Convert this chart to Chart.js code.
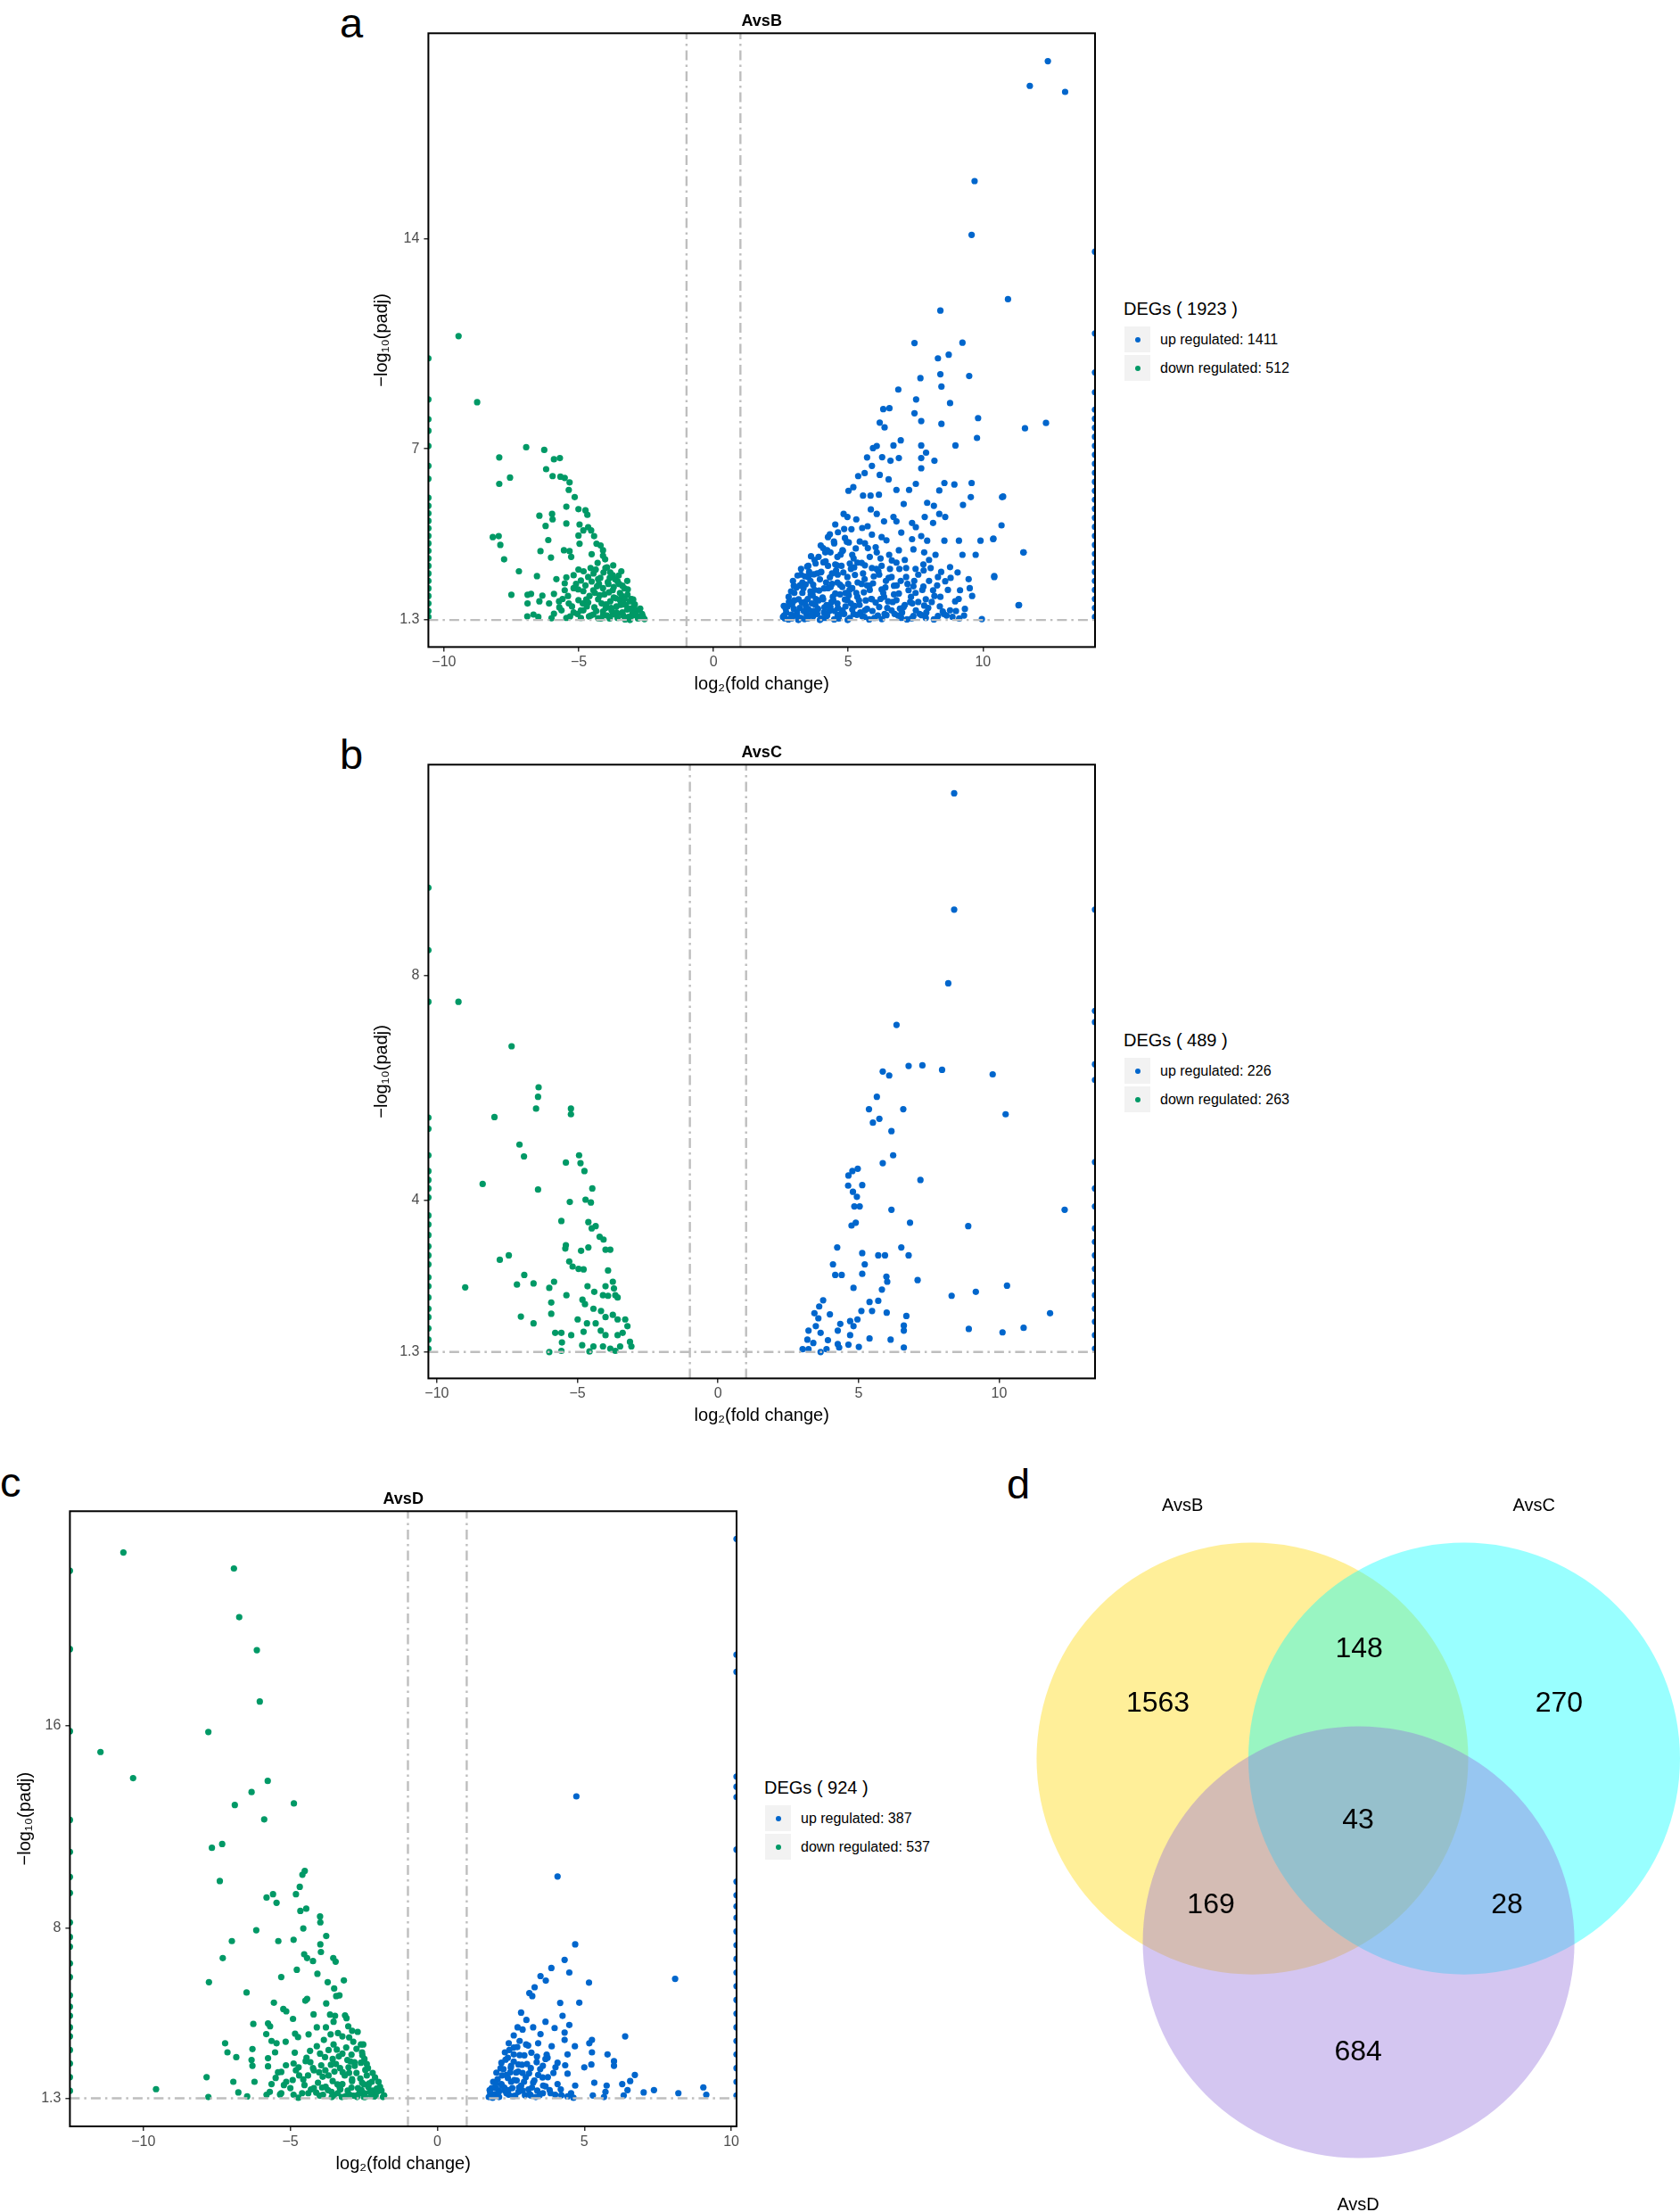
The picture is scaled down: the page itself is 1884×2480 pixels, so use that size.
<!DOCTYPE html>
<html>
<head>
<meta charset="utf-8">
<script src="https://cdn.jsdelivr.net/npm/chart.js@4.4.1/dist/chart.umd.min.js"></script>
<style>
  body { margin: 0; background: #fff; width: 1884px; height: 2480px; position: relative; overflow: hidden;
         font-family: "Liberation Sans", Arial, Helvetica, sans-serif; }
  canvas { position: absolute; }
  .tag { position: absolute; font-size: 47px; line-height: 47px; color: #000; }
  .legend { position: absolute; color: #000; }
  .legend .ttl { position: absolute; left: 0; top: 0; font-size: 20px; line-height: 20px; white-space: nowrap; }
  .legend .key { position: absolute; left: 1px; width: 29px; height: 29px; background: #F2F2F2; }
  .legend .dot { position: absolute; left: 11.5px; top: 11.5px; width: 6px; height: 6px; border-radius: 50%; }
  .legend .lab { position: absolute; left: 41px; font-size: 16px; line-height: 16px; white-space: nowrap; }
</style>
</head>
<body>

<div class="tag" style="left:381px; top:2px;">a</div>
<div class="tag" style="left:381px; top:822px;">b</div>
<div class="tag" style="left:0px; top:1638px;">c</div>
<div class="tag" style="left:1129px; top:1640px;">d</div>

<canvas id="volA" width="840" height="786" style="left:400px; top:0px;"></canvas>
<canvas id="volB" width="840" height="786" style="left:400px; top:820px;"></canvas>
<canvas id="volC" width="838" height="788" style="left:0px; top:1657px;"></canvas>
<canvas id="venn" width="784" height="860" style="left:1100px; top:1620px;"></canvas>

<div id="legA" class="legend" style="left:1260px; top:336px;"></div>
<div id="legB" class="legend" style="left:1260px; top:1156px;"></div>
<div id="legC" class="legend" style="left:857px; top:1994px;"></div>

<script>
const FONT = '"Liberation Sans", Arial, Helvetica, sans-serif';
const UP = '#0066CC';
const DOWN = '#009966';
const GUIDE = '#BEBEBE';

const comparisons = ['AvsB', 'AvsC', 'AvsD'];
const upCounts = [1411, 226, 387];
const downCounts = [512, 263, 537];

const foldCut = [-1, 1];
const padjCut = 1.3;
const xTicks = [-10, -5, 0, 5, 10];

// ---- AvsB ----
const xRangeA = [-10.58, 14.16];
const yRangeA = [0.40, 20.83];
const yTicksA = [1.3, 7, 14];
const upA = [
  [12.41,19.90],[11.74,19.08],[13.05,18.88],[9.69,15.91],[9.58,14.12],[10.93,11.98],[8.42,11.60],[7.46,10.52],
  [9.24,10.53],[8.33,10.01],[8.73,10.13],[7.68,9.35],[8.42,9.48],[9.49,9.42],[6.86,8.97],[8.46,9.07],[7.52,8.64],
  [8.78,8.52],[6.30,8.32],[6.53,8.35],[7.46,8.18],[9.82,8.02],[12.34,7.86],[11.56,7.68],[6.17,7.87],[6.35,7.71],
  [7.71,7.92],[8.46,7.83],[9.78,7.36],[6.95,7.28],[6.68,7.11],[5.92,7.02],[6.06,7.09],[7.71,7.11],[8.98,7.11],
  [5.70,6.71],[6.26,6.72],[6.88,6.69],[7.71,6.69],[7.89,6.87],[8.20,6.60],[5.88,6.43],[6.57,6.60],[7.71,6.35],
  [5.37,6.09],[5.61,6.19],[6.17,6.13],[6.50,5.98],[8.57,5.86],[7.51,5.83],[8.94,5.81],[9.58,5.86],[5.01,5.60],
  [5.19,5.72],[5.55,5.44],[5.83,5.44],[6.14,5.47],[6.79,5.63],[7.26,5.63],[8.38,5.61],[9.55,5.39],[10.71,5.39],
  [7.06,5.16],[7.93,5.20],[9.26,5.13],[8.18,5.10],[4.83,4.83],[4.97,4.73],[5.30,4.65],[5.84,4.98],[6.06,4.83],
  [6.68,4.73],[7.37,4.53],[7.84,4.73],[8.38,4.83],[8.60,4.73],[4.52,4.48],[4.85,4.33],[5.52,4.36],[6.33,4.58],
  [6.79,4.58],[7.51,4.39],[8.15,4.53],[10.69,4.45],[4.25,4.06],[4.47,3.91],[4.88,4.03],[5.43,3.91],[5.88,4.14],
  [6.24,4.06],[6.97,4.21],[7.37,3.99],[7.71,4.09],[7.93,3.94],[8.57,3.94],[9.11,3.94],[9.91,3.94],[10.38,3.99],
  [4.07,3.69],[4.34,3.55],[4.79,3.62],[5.15,3.47],[5.73,3.69],[6.06,3.55],[6.52,3.47],[6.88,3.62],[7.42,3.65],
  [7.82,3.55],[8.24,3.47],[9.24,3.47],[9.73,3.47],[11.51,3.55],[3.52,3.10],[3.79,3.18],[4.16,3.25],[4.52,3.15],
  [5.06,3.18],[5.34,3.21],[5.88,3.03],[6.24,3.10],[6.79,3.21],[7.15,3.03],[7.79,3.15],[8.06,3.03],[8.78,3.06],
  [9.06,2.88],[9.47,2.66],[10.42,2.73],[3.25,2.81],[3.52,2.73],[3.97,2.88],[4.61,2.81],[4.97,2.73],[5.61,2.66],
  [6.15,2.81],[6.61,2.73],[7.15,2.73],[7.60,2.81],[8.33,2.73],[8.60,2.59],[2.98,2.44],[3.34,2.36],[3.70,2.47],
  [4.25,2.36],[4.70,2.47],[5.15,2.36],[5.79,2.44],[6.24,2.32],[6.70,2.44],[7.24,2.29],[7.79,2.41],[8.15,2.29],
  [9.15,2.29],[9.51,2.36],[2.79,2.07],[3.16,1.99],[3.61,2.14],[4.07,1.99],[4.43,2.07],[4.97,1.96],[5.34,2.07],
  [5.88,1.99],[6.33,2.07],[6.79,1.96],[7.33,2.07],[7.88,1.99],[8.42,2.07],[8.97,1.92],[11.32,1.79],[2.61,1.77],
  [2.98,1.67],[3.43,1.77],[3.88,1.67],[4.34,1.73],[4.79,1.62],[5.24,1.77],[5.70,1.67],[6.15,1.73],[6.61,1.62],
  [7.06,1.73],[7.51,1.62],[7.97,1.70],[8.51,1.58],[8.78,1.62],[9.33,1.67],[2.58,1.40],[2.89,1.48],[3.25,1.37],
  [3.70,1.43],[4.16,1.37],[4.61,1.46],[5.06,1.37],[5.52,1.43],[5.97,1.37],[6.42,1.46],[6.97,1.37],[7.42,1.43],
  [7.88,1.37],[8.33,1.43],[8.87,1.40],[9.96,1.33],[11.34,1.80],[11.50,3.55],[10.75,5.41],[10.39,4.01],[10.42,2.76],
  [3.10,1.55],[3.40,1.90],[3.60,2.60],[3.80,2.00],[4.00,2.90],[4.10,1.55],[4.40,2.50],[4.60,3.40],[4.90,2.20],
  [5.10,3.00],[3.30,2.20],[2.80,1.90],[3.90,3.40],[4.60,1.85],[5.50,2.50],[5.80,3.40],[6.40,2.60],[6.90,3.00],
  [7.50,2.20],[8.00,2.60],[2.70,1.55],[2.85,1.90],[3.00,2.20],[3.05,1.45],[3.20,1.70],[3.30,2.55],[3.45,1.50],
  [3.50,2.00],[3.55,2.90],[3.65,1.85],[3.75,2.30],[3.85,1.50],[3.95,2.65],[4.05,2.05],[4.20,1.80],[4.25,3.10],
  [4.35,2.40],[4.50,1.60],[4.55,2.95],[4.70,2.15],[4.80,3.60],[4.85,1.50],[5.00,2.50],[5.10,1.85],[5.20,3.35],
  [5.30,2.20],[5.45,1.55],[5.55,2.85],[5.65,1.95],[5.80,2.30],[5.90,1.60],[6.05,3.00],[6.20,2.00],[6.35,1.50],
  [6.50,2.70],[6.65,1.90],[6.80,2.45],[7.00,1.55],[7.10,3.30],[7.30,1.90],[7.45,2.60],[7.65,1.50],[7.80,2.95],
  [8.10,1.90],[8.30,2.45],[8.55,1.50],[8.70,2.30],[9.00,1.60],
  [2.65,1.35],[2.75,1.75],[2.90,1.35],[3.00,1.95],[3.15,1.30],[3.20,2.45],[3.35,1.60],[3.40,2.75],[3.50,1.35],
  [3.60,2.25],[3.70,1.60],[3.75,3.30],[3.85,2.85],[3.90,1.95],[4.00,1.35],[4.10,2.35],[4.15,3.55],[4.30,1.60],
  [4.40,2.85],[4.45,1.95],[4.60,2.55],[4.65,1.35],[4.75,3.10],[4.90,1.75],[4.95,3.90],[5.05,2.30],[5.20,1.50],
  [5.25,2.80],[5.40,1.95],[5.50,3.20],[5.60,1.40],[5.70,2.45],[5.85,2.00],[5.95,2.75],[6.10,1.45],[6.20,3.35],
  [6.30,2.20],[6.45,1.70],[6.55,3.00],[6.70,2.15],[6.85,1.45],[6.95,2.60],[7.10,1.80],[7.20,2.50],[7.35,1.35],
  [7.50,3.00],[7.60,1.90],[7.75,2.30],[7.90,1.55],[8.00,3.30],[8.20,2.10],[8.40,1.75],[8.45,2.90],[8.65,1.45],
  [8.80,2.70],[9.10,2.00],[9.30,1.45],[9.60,2.10],[2.95,2.60],[3.25,3.00],
  [2.62,1.45],[2.78,1.32],[3.12,1.42],[3.38,1.33],[3.62,1.48],[3.95,1.30],[4.22,1.45],[4.48,1.32],[4.72,1.50],
  [4.98,1.30],[5.32,1.47],[5.78,1.32],[6.25,1.33],[6.72,1.50],[7.18,1.32],[7.72,1.46],[8.18,1.32],[9.12,1.35],
  [2.68,1.68],[2.92,1.82],[3.28,1.88],[3.52,1.66],[3.78,1.80],[4.12,1.72],[4.38,1.90],[4.62,1.70],[4.88,1.98],
  [5.15,1.65],[5.42,1.80],[5.62,1.62],[6.02,1.88],[6.48,1.92],[6.92,1.68],[7.38,1.85],[7.82,1.78],
  [2.88,2.25],[3.08,2.38],[3.42,2.48],[3.68,2.12],[3.92,2.28],[4.18,2.55],[4.52,2.18],[4.78,2.40],[5.02,2.12],
  [5.35,2.55],[5.58,2.22],[5.92,2.52],[6.38,2.38],[6.88,2.18],[7.42,2.42],
  [3.12,2.78],[3.48,3.08],[3.72,2.82],[4.08,3.22],[4.32,2.72],[4.58,3.12],[4.82,2.88],[5.22,3.05],[5.62,3.12],
  [6.12,2.92],[6.62,3.28],[3.62,3.42],[3.98,3.78],[4.22,3.62],[4.48,3.85],[4.72,3.48],[5.02,3.88],[5.28,3.68],
  [5.62,3.85],[6.02,3.72],[6.42,3.95],[4.32,4.15],[4.62,4.22],[5.12,4.32],[5.72,4.42]
];
const downA = [
  [-9.46,10.75],[-8.77,8.55],[-6.95,7.05],[-6.28,6.96],[-7.95,6.71],[-5.92,6.65],[-5.70,6.69],[-6.21,6.32],
  [-5.97,6.09],[-5.68,6.07],[-5.52,6.03],[-7.55,6.04],[-7.95,5.83],[-5.34,5.88],[-5.37,5.63],[-5.15,5.39],
  [-5.46,5.07],[-5.01,4.99],[-4.75,4.95],[-4.68,4.80],[-6.46,4.77],[-5.99,4.83],[-6.23,4.43],[-5.97,4.65],
  [-5.46,4.51],[-4.97,4.48],[-4.65,4.39],[-4.54,4.28],[-4.83,4.28],[-8.19,4.06],[-7.97,4.09],[-7.91,3.80],
  [-6.13,3.96],[-5.01,4.11],[-4.43,4.09],[-4.34,3.84],[-4.97,3.84],[-4.19,3.78],[-4.10,3.62],[-6.42,3.59],
  [-5.55,3.62],[-5.34,3.59],[-4.52,3.49],[-6.03,3.38],[-4.10,3.44],[-7.77,3.32],[-5.28,3.40],[-7.22,2.92],
  [-6.55,2.76],[-5.01,2.98],[-4.56,3.03],[-4.37,2.98],[-4.01,3.03],[-3.83,2.88],[-3.74,2.79],[-5.83,2.66],
  [-5.46,2.72],[-5.19,2.79],[-4.92,2.61],[-4.65,2.73],[-4.28,2.66],[-3.92,2.56],[-3.56,2.59],[-3.38,2.44],
  [-7.50,2.14],[-6.90,2.14],[-6.77,2.17],[-6.35,2.11],[-5.92,2.17],[-5.52,2.29],[-5.19,2.36],[-4.83,2.26],
  [-4.46,2.29],[-4.10,2.36],[-3.74,2.29],[-3.47,2.20],[-3.19,2.14],[-6.46,1.92],[-6.90,1.85],[-6.10,1.85],
  [-5.73,1.92],[-5.37,1.85],[-5.01,1.96],[-4.65,1.88],[-4.28,1.99],[-3.83,1.92],[-3.47,1.96],[-3.10,1.92],
  [-2.92,1.82],[-6.91,1.42],[-6.68,1.48],[-6.50,1.40],[-5.92,1.51],[-5.64,1.62],[-5.19,1.55],[-4.83,1.62],
  [-4.46,1.48],[-4.10,1.58],[-3.74,1.48],[-3.38,1.55],[-3.01,1.51],[-2.74,1.40],[-2.56,1.33],[-2.83,1.62],
  [-3.56,1.37],[-4.28,1.36],[-4.92,1.37],[-5.46,1.37],[-6.01,1.36],[-4.00,1.70],[-3.60,1.75],[-3.20,1.65],
  [-3.90,2.50],[-3.40,2.10],[-3.00,1.45],[-2.90,1.60],[-3.30,2.00],[-3.70,2.40],[-4.20,2.70],[-4.40,2.20],
  [-3.55,1.50],[-4.70,1.75],[-3.85,1.35],[-4.10,1.45],[-3.25,1.80],[-3.65,2.65],[-4.30,3.20],[-3.95,3.05],
  [-2.65,1.50],[-2.80,1.35],[-2.95,1.75],[-3.05,2.00],[-3.15,1.40],[-3.30,2.35],[-3.35,1.45],[-3.45,1.80],
  [-3.50,2.50],[-3.60,1.55],[-3.70,2.05],[-3.80,1.70],[-3.85,2.70],[-3.95,1.45],[-4.05,2.15],[-4.15,1.85],
  [-4.25,2.50],[-4.35,1.60],[-4.45,2.85],[-4.55,1.45],[-4.60,2.10],[-4.75,2.45],[-4.85,1.85],[-5.05,1.50],
  [-5.10,2.50],[-5.25,1.75],[-5.40,2.10],[-5.60,2.00],[-3.20,2.60],[-3.10,1.30],
  [-2.62,1.42],[-2.72,1.68],[-2.88,1.48],[-2.98,1.98],[-3.08,1.68],[-3.18,2.32],[-3.28,1.32],[-3.38,1.82],
  [-3.52,2.78],[-3.62,2.02],[-3.78,1.62],[-3.88,2.22],[-3.98,1.82],[-4.08,2.88],[-4.18,1.35],[-4.22,2.12],
  [-4.32,2.42],[-4.42,1.72],[-4.52,2.58],[-4.62,1.42],[-4.72,1.98],[-4.82,2.92],[-4.92,1.62],[-5.02,2.32],
  [-5.32,1.42],[-5.52,2.52],[-5.72,1.72],[-3.42,2.92],[-3.72,3.12],[-4.02,3.32]
];
const upEdgeA = [13.56, 10.84, 9.54, 8.88, 8.30, 8.00, 7.70, 7.40, 7.10, 6.80, 6.50, 6.20, 5.90, 5.60, 5.30,
  5.00, 4.70, 4.40, 4.10, 3.80, 3.50, 3.20, 2.90, 2.60, 2.30, 2.00, 1.70, 1.40];
const downEdgeA = [10.01, 8.64, 7.98, 7.60, 7.09, 6.43, 6.00, 5.37, 5.10, 4.85, 4.60, 4.35, 4.10, 3.85, 3.60,
  3.35, 3.10, 2.85, 2.60, 2.35, 2.10, 1.85, 1.60, 1.40];

// ---- AvsC ----
const xRangeB = [-10.30, 13.41];
const yRangeB = [0.83, 11.75];
const yTicksB = [1.3, 4, 8];
const upB = [
  [8.40,11.24],[8.40,9.17],[8.19,7.86],[6.35,7.12],[6.78,6.39],[7.27,6.40],[7.97,6.32],[9.77,6.24],[5.86,6.29],
  [6.09,6.22],[5.65,5.84],[5.37,5.62],[6.59,5.62],[10.23,5.53],[5.74,5.45],[5.51,5.38],[6.17,5.23],[6.23,4.80],
  [5.86,4.66],[4.97,4.56],[4.78,4.52],[4.64,4.44],[7.20,4.36],[4.63,4.26],[5.13,4.27],[4.80,4.15],[4.94,4.06],
  [4.85,3.89],[5.04,3.89],[6.17,3.83],[12.33,3.83],[4.90,3.60],[4.75,3.55],[6.83,3.60],[8.90,3.54],[4.24,3.16],
  [6.52,3.16],[5.13,3.06],[5.70,3.02],[5.94,3.02],[6.78,3.02],[4.09,2.86],[5.22,2.86],[5.13,2.69],[4.17,2.67],
  [4.40,2.67],[5.99,2.64],[7.10,2.58],[6.02,2.55],[4.82,2.44],[5.83,2.41],[10.28,2.48],[8.31,2.30],[9.17,2.37],
  [5.70,2.21],[5.39,2.19],[3.74,2.22],[3.60,2.11],[3.43,1.99],[3.98,1.97],[5.10,2.03],[5.48,2.03],[6.00,2.00],
  [6.70,1.94],[11.81,1.99],[3.57,1.90],[4.35,1.80],[4.70,1.85],[4.96,1.88],[4.82,1.76],[10.87,1.73],[8.92,1.71],
  [10.12,1.65],[6.61,1.77],[6.61,1.68],[3.22,1.68],[3.48,1.76],[3.65,1.64],[4.26,1.68],[4.70,1.60],[5.39,1.54],
  [6.14,1.52],[3.18,1.52],[3.39,1.46],[3.91,1.51],[4.26,1.44],[3.01,1.35],[3.22,1.35],[3.65,1.30],[3.86,1.35],
  [4.31,1.38],[4.64,1.43],[5.01,1.39],[6.61,1.38]
];
const downB = [
  [-9.23,7.53],[-7.34,6.74],[-6.38,6.01],[-6.40,5.84],[-6.47,5.63],[-7.95,5.48],[-5.23,5.63],[-5.23,5.53],
  [-7.06,4.99],[-6.90,4.78],[-4.94,4.80],[-5.41,4.67],[-4.89,4.66],[-4.75,4.52],[-8.37,4.29],[-6.40,4.19],
  [-4.47,4.21],[-5.27,3.97],[-4.71,4.01],[-4.52,3.96],[-5.57,3.63],[-4.61,3.61],[-4.35,3.54],[-4.49,3.50],
  [-4.21,3.35],[-4.07,3.30],[-5.41,3.20],[-5.43,3.14],[-4.87,3.10],[-4.61,3.16],[-4.00,3.12],[-3.83,3.12],
  [-7.44,3.02],[-7.76,2.94],[-5.29,2.91],[-5.17,2.82],[-4.96,2.78],[-4.78,2.77],[-3.91,2.75],[-6.89,2.67],
  [-7.15,2.50],[-6.56,2.52],[-8.99,2.45],[-6.00,2.44],[-5.83,2.55],[-4.64,2.47],[-4.40,2.37],[-4.00,2.47],
  [-3.74,2.55],[-3.70,2.43],[-5.39,2.31],[-4.09,2.31],[-3.91,2.30],[-3.65,2.31],[-3.57,2.27],[-5.93,2.18],
  [-4.82,2.23],[-4.73,2.15],[-4.43,2.07],[-4.16,2.03],[-7.01,1.93],[-6.56,1.81],[-5.93,1.98],[-4.99,1.88],
  [-4.66,1.81],[-4.35,1.81],[-4.00,1.92],[-3.74,1.96],[-3.57,1.88],[-3.30,1.88],[-3.22,1.76],[-5.79,1.64],
  [-5.57,1.64],[-5.22,1.60],[-4.78,1.66],[-4.17,1.68],[-4.00,1.60],[-3.57,1.60],[-3.39,1.64],[-5.55,1.47],
  [-4.83,1.42],[-4.43,1.40],[-4.09,1.40],[-3.83,1.36],[-3.48,1.40],[-3.08,1.40],[-3.13,1.48],[-6.00,1.30],
  [-5.57,1.32],[-4.57,1.31],[-3.65,1.32]
];
const upEdgeB = [9.17, 7.37, 7.17, 6.42, 6.14, 4.68, 4.21, 3.89, 3.50, 3.26, 3.02, 2.78, 2.55, 2.31, 2.07,
  1.84, 1.60, 1.36];
const downEdgeB = [9.56, 8.45, 7.53, 5.47, 5.27, 4.80, 4.52, 4.36, 4.21, 4.05, 3.73, 3.57, 3.38, 3.18, 3.02,
  2.86, 2.63, 2.47, 2.27, 2.07, 1.92, 1.72, 1.52, 1.36];

// ---- AvsD ----
const xRangeC = [-12.50, 10.18];
const yRangeC = [0.19, 24.46];
const yTicksC = [1.3, 8, 16];
const upC = [
  [4.73,13.21],[4.09,10.05],[4.69,7.37],[4.33,6.76],[3.88,6.44],[4.49,6.26],[3.51,6.12],[3.69,5.94],[5.16,5.86],
  [8.09,6.01],[3.31,5.68],[3.13,5.45],[3.23,5.33],[4.18,5.06],[4.83,5.07],[2.85,4.68],[3.03,4.39],[3.68,4.32],
  [4.26,4.55],[2.73,4.10],[2.90,4.01],[3.26,4.10],[3.51,3.83],[3.99,4.07],[4.33,3.89],[4.49,4.19],[6.39,3.74],
  [2.60,3.78],[2.43,3.47],[2.80,3.56],[3.09,3.38],[3.43,3.47],[3.89,3.35],[4.33,3.60],[4.68,3.35],[5.26,3.60],
  [5.17,3.47],[2.30,3.11],[2.60,3.03],[2.96,2.99],[3.39,2.94],[3.68,2.85],[4.43,3.03],[5.26,3.11],[5.79,3.03],
  [6.01,2.76],[2.18,2.70],[2.51,2.58],[2.76,2.63],[3.18,2.49],[3.59,2.58],[4.09,2.70],[5.00,2.52],[5.24,2.63],
  [6.01,2.58],[6.72,2.22],[2.01,2.31],[2.35,2.22],[2.68,2.31],[3.01,2.13],[3.43,2.22],[3.76,2.13],[4.43,2.27],
  [6.56,1.98],[1.90,1.95],[2.18,1.86],[2.51,1.95],[2.85,1.80],[3.26,1.91],[3.68,1.77],[4.09,1.86],[4.69,1.80],
  [5.34,1.91],[5.76,1.80],[6.29,1.86],[1.80,1.50],[2.10,1.59],[2.43,1.44],[2.76,1.55],[3.18,1.41],[3.59,1.50],
  [4.01,1.44],[4.43,1.37],[4.63,1.32],[5.29,1.41],[5.67,1.35],[6.34,1.41],[6.47,1.62],[7.02,1.53],[7.37,1.62],
  [8.20,1.50],[9.05,1.73],[9.15,1.44],[5.72,1.55],[2.20,2.20],[2.40,2.90],[2.60,3.30],[2.30,1.60],[2.90,2.30],
  [3.10,1.65],[2.00,1.70],[2.70,2.00],[3.40,1.60],[2.50,2.50],
  [1.75,1.35],[1.85,1.70],[1.95,1.45],[2.05,2.05],[2.10,1.35],[2.20,1.80],[2.25,2.45],[2.35,1.50],[2.40,2.10],
  [2.45,3.20],[2.55,1.70],[2.60,2.75],[2.65,1.40],[2.75,2.35],[2.80,3.00],[2.90,1.60],[2.95,1.95],[3.05,2.65],
  [3.15,1.45],[3.20,3.10],[3.30,2.00],[3.35,1.35],[3.50,2.45],[3.60,1.80],[3.75,2.90],[3.85,1.50],[3.95,2.30],
  [4.20,1.65],[4.35,2.60],[4.55,1.50],
  [1.78,1.62],[1.88,1.32],[1.98,1.88],[2.08,1.52],[2.15,2.48],[2.28,1.72],[2.32,2.82],[2.42,1.62],[2.48,2.32],
  [2.58,1.38],[2.62,2.02],[2.72,3.32],[2.78,1.72],[2.88,2.62],[2.98,1.42],[3.02,3.42],[3.12,2.28],[3.22,1.72],
  [3.38,2.72],[3.48,1.42],[3.58,2.12],[3.72,3.02],[3.82,1.62],[4.02,2.52],[4.22,1.42]
];
const downC = [
  [-10.68,22.83],[-6.92,22.20],[-6.74,20.28],[-6.14,18.98],[-6.04,16.95],[-7.79,15.75],[-11.46,14.96],
  [-10.35,13.93],[-5.77,13.82],[-6.32,13.38],[-4.88,12.93],[-6.89,12.87],[-5.89,12.30],[-7.32,11.33],
  [-7.67,11.18],[-7.40,9.87],[-4.51,10.27],[-4.59,10.12],[-4.68,9.64],[-5.81,9.22],[-5.59,9.35],[-4.81,9.35],
  [-5.47,9.01],[-4.66,8.69],[-4.46,8.78],[-3.99,8.47],[-3.98,8.24],[-4.56,8.00],[-6.16,7.93],[-3.78,7.70],
  [-6.99,7.50],[-5.41,7.50],[-4.89,7.55],[-3.98,7.37],[-3.96,7.07],[-4.53,6.98],[-4.43,6.83],[-4.23,6.71],
  [-3.54,6.83],[-3.46,6.69],[-7.30,6.83],[-4.78,6.37],[-4.08,6.21],[-5.31,6.08],[-7.77,5.88],[-3.73,5.88],
  [-3.18,5.95],[-3.51,5.63],[-3.44,5.33],[-3.33,5.36],[-6.49,5.47],[-4.43,5.22],[-4.49,5.15],[-5.56,5.07],
  [-3.78,5.04],[-5.24,4.82],[-5.14,4.73],[-4.91,4.43],[-4.21,4.61],[-3.48,4.55],[-3.14,4.57],[-3.09,4.46],
  [-6.26,4.23],[-5.76,4.25],[-5.69,4.14],[-3.53,4.32],[-3.79,4.10],[-3.03,4.14],[-2.90,3.96],[-2.71,3.92],
  [-5.82,3.83],[-4.84,3.85],[-4.38,3.82],[-3.63,3.82],[-3.38,3.87],[-3.23,3.74],[-7.22,3.47],[-5.64,3.56],
  [-5.47,3.47],[-5.16,3.53],[-4.74,3.71],[-3.86,3.60],[-3.53,3.42],[-2.86,3.53],[-2.60,3.42],[-7.14,3.11],
  [-6.29,3.24],[-5.52,3.11],[-4.33,3.17],[-3.99,3.06],[-3.23,3.06],[-2.56,3.11],[-6.84,2.92],[-6.32,2.81],
  [-5.76,2.88],[-4.89,2.67],[-4.48,2.76],[-3.56,2.85],[-3.06,2.81],[-2.48,2.85],[-6.29,2.58],[-5.76,2.56],
  [-5.31,2.34],[-4.81,2.40],[-4.23,2.49],[-3.81,2.40],[-3.31,2.49],[-2.81,2.58],[-2.36,2.49],[-7.85,2.13],
  [-6.94,1.95],[-6.22,1.95],[-5.64,1.86],[-5.14,1.95],[-4.56,2.04],[-4.06,1.91],[-3.56,1.98],[-3.23,1.86],
  [-2.90,1.98],[-2.56,1.91],[-2.23,1.95],[-2.06,1.68],[-9.57,1.66],[-6.77,1.53],[-5.81,1.44],[-5.31,1.50],
  [-4.89,1.44],[-4.39,1.50],[-3.89,1.44],[-3.39,1.50],[-2.98,1.44],[-2.48,1.50],[-1.81,1.41],[-7.79,1.35],
  [-6.47,1.37],[-4.73,1.32],[-3.59,1.35],[-2.73,1.35],[-2.15,1.37],[-2.70,1.70],[-2.40,2.20],[-3.00,2.30],
  [-3.30,1.65],[-3.70,2.20],[-4.20,1.70],[-2.20,1.60],[-2.60,2.70],[-3.10,3.30],[-2.90,2.05],[-3.45,2.65],
  [-2.50,1.35],[-3.95,2.60],[-4.40,2.20],[-2.35,1.75],
  [-1.90,1.60],[-2.00,1.95],[-2.10,1.40],[-2.20,2.30],[-2.30,1.55],[-2.40,2.65],[-2.50,1.85],[-2.55,3.00],
  [-2.65,1.50],[-2.75,2.30],[-2.85,1.40],[-2.95,2.75],[-3.05,1.60],[-3.15,2.20],[-3.25,1.35],[-3.35,2.95],
  [-3.40,1.85],[-3.50,2.35],[-3.60,1.55],[-3.70,3.20],[-3.80,1.75],[-3.90,2.15],[-4.00,1.40],[-4.10,3.35],
  [-4.20,2.40],[-4.30,1.65],[-4.45,2.90],[-4.60,1.50],[-4.70,2.20],[-4.85,3.10],[-5.00,1.70],[-5.15,2.60],
  [-5.35,1.45],[-5.50,2.10],[-5.70,1.55],[-4.10,4.10],[-3.65,4.60],[-3.00,3.70],[-2.75,3.25],[-2.45,1.35],
  [-1.85,1.35],[-1.95,1.75],[-2.05,1.55],[-2.12,2.12],[-2.25,1.42],[-2.32,1.88],[-2.45,2.42],[-2.58,1.62],
  [-2.62,2.08],[-2.72,1.42],[-2.82,2.72],[-2.92,1.72],[-3.02,2.52],[-3.12,1.38],[-3.22,2.32],[-3.32,1.72],
  [-3.42,3.22],[-3.52,1.42],[-3.62,2.62],[-3.72,1.62],[-3.82,2.92],[-3.92,1.72],[-4.02,2.32],[-4.12,1.52],
  [-4.32,2.72],[-4.52,1.82],[-4.72,2.52],[-4.92,2.02],[-5.22,1.82],[-5.42,2.32],[-2.52,3.42],[-2.92,3.02]
];
const upEdgeC = [23.37, 18.80, 18.12, 13.99, 13.59, 13.18, 11.11, 9.85, 9.31, 8.87, 8.42, 7.88, 7.34, 6.80,
  6.26, 5.72, 5.18, 4.64, 4.10, 3.56, 3.03, 2.49, 1.95, 1.41];
const downEdgeC = [22.11, 19.02, 15.78, 12.28, 11.02, 10.03, 9.40, 8.24, 7.66, 7.28, 6.62, 6.08, 5.36, 4.91,
  4.55, 4.10, 3.74, 3.20, 2.67, 2.13, 1.59];

// ---- Venn ----
const vennSets = ['AvsB', 'AvsC', 'AvsD'];
const vennColors = ['rgba(255,215,0,0.4)', 'rgba(0,255,255,0.4)', 'rgba(147,112,219,0.4)'];
// regions: B only, B&C, C only, all three, B&D, C&D, D only
const vennCounts = [1563, 148, 270, 43, 169, 28, 684];
// layout in units of one circle radius
const vennCentres = [[0, 0], [0.981, 0], [0.492, -0.851]];
const vennCountSpots = [[-0.438, 0.252], [0.494, 0.505], [1.421, 0.252], [0.490, -0.288], [-0.192, -0.682],
  [1.180, -0.682], [0.490, -1.364]];
const vennLabelSpots = [[-0.324, 1.169], [1.304, 1.169], [0.490, -2.068]];

Chart.defaults.font.family = FONT;

const frame = {
  id: 'frame',
  afterDraw(chart) {
    const {ctx, chartArea: a} = chart;
    ctx.save();
    ctx.strokeStyle = '#000';
    ctx.lineWidth = 2;
    ctx.strokeRect(a.left, a.top, a.right - a.left, a.bottom - a.top);
    ctx.restore();
  }
};

const fmtTick = v => (v < 0 ? '\u2212' + Math.abs(v) : String(v));

function volcano(id, title, up, down, upEdge, downEdge, xRange, yRange, yTicks, yAxisW, xAxisH) {
  const pts = a => a.map(p => ({x: p[0], y: p[1]}));
  const guide = data => ({
    data: data, showLine: true, borderColor: GUIDE, borderWidth: 2.4, borderDash: [11, 5, 2.5, 5],
    pointRadius: 0, clip: 0
  });
  const dots = (label, data, color) => ({
    label: label, data: data, backgroundColor: color, pointBackgroundColor: color,
    pointRadius: 3.6, pointBorderWidth: 0, borderWidth: 0, clip: 0
  });

  const config = {
    type: 'scatter',
    data: {
      datasets: [
        guide([{x: foldCut[0], y: yRange[0]}, {x: foldCut[0], y: yRange[1]}]),
        guide([{x: foldCut[1], y: yRange[0]}, {x: foldCut[1], y: yRange[1]}]),
        guide([{x: xRange[0], y: padjCut}, {x: xRange[1], y: padjCut}]),
        dots('up regulated', pts(up).concat(upEdge.map(y => ({x: xRange[1], y: y}))), UP),
        dots('down regulated', pts(down).concat(downEdge.map(y => ({x: xRange[0], y: y}))), DOWN)
      ]
    },
    options: {
      responsive: false,
      devicePixelRatio: 1,
      animation: false,
      events: [],
      layout: { padding: { left: 0, right: 12, top: 0, bottom: 0 } },
      plugins: {
        legend: { display: false },
        tooltip: { enabled: false },
        title: {
          display: true, text: title, fullSize: false, color: '#000',
          font: { size: 18, weight: 'bold' }, padding: { top: 13.2, bottom: 2.5 }
        }
      },
      scales: {
        x: {
          type: 'linear', min: xRange[0], max: xRange[1],
          afterBuildTicks: s => { s.ticks = xTicks.map(v => ({value: v})); },
          afterFit: s => { s.height = xAxisH; s.paddingLeft = 0; s.paddingRight = 0; },
          grid: { drawOnChartArea: false, drawTicks: true, tickLength: 5, color: '#333', lineWidth: 1.5 },
          border: { display: false },
          ticks: { color: '#4D4D4D', font: { size: 16 }, padding: 3, maxRotation: 0, autoSkip: false, callback: fmtTick },
          title: { display: true, text: 'log\u2082(fold change)', color: '#000', font: { size: 20 }, padding: { top: 0, bottom: 7 } }
        },
        y: {
          type: 'linear', min: yRange[0], max: yRange[1],
          afterBuildTicks: s => { s.ticks = yTicks.map(v => ({value: v})); },
          afterFit: s => { s.width = yAxisW; s.paddingTop = 0; s.paddingBottom = 0; },
          grid: { drawOnChartArea: false, drawTicks: true, tickLength: 5, color: '#333', lineWidth: 1.5 },
          border: { display: false },
          ticks: { color: '#4D4D4D', font: { size: 16 }, padding: 5, autoSkip: false, callback: fmtTick },
          title: { display: true, text: '\u2212log\u2081\u2080(padj)', color: '#000', font: { size: 20 }, padding: { top: 16, bottom: 0 } }
        }
      }
    },
    plugins: [frame]
  };
  return new Chart(document.getElementById(id), config);
}

function legend(id, i) {
  const el = document.getElementById(id);
  const rows = [['up regulated', upCounts[i], UP], ['down regulated', downCounts[i], DOWN]];
  let html = '<div class="ttl">DEGs ( ' + (upCounts[i] + downCounts[i]) + ' )</div>';
  rows.forEach((r, k) => {
    const top = 30 + k * 32;
    html += '<div class="key" style="top:' + top + 'px"><div class="dot" style="background:' + r[2] + '"></div></div>';
    html += '<div class="lab" style="top:' + (top + 6.5) + 'px">' + r[0] + ': ' + r[1] + '</div>';
  });
  el.innerHTML = html;
}

volcano('volA', comparisons[0], upA, downA, upEdgeA, downEdgeA, xRangeA, yRangeA, yTicksA, 80.4, 60.6);
volcano('volB', comparisons[1], upB, downB, upEdgeB, downEdgeB, xRangeB, yRangeB, yTicksB, 80.4, 60.6);
volcano('volC', comparisons[2], upC, downC, upEdgeC, downEdgeC, xRangeC, yRangeC, yTicksC, 78.4, 61);
legend('legA', 0);
legend('legB', 1);
legend('legC', 2);

const vennText = {
  id: 'vennText',
  afterDatasetsDraw(chart) {
    const {ctx, scales: {x, y}} = chart;
    ctx.save();
    ctx.fillStyle = '#000';
    ctx.textAlign = 'center';
    ctx.textBaseline = 'middle';
    ctx.font = '32px ' + FONT;
    vennCounts.forEach((n, i) => {
      ctx.fillText(String(n), x.getPixelForValue(vennCountSpots[i][0]), y.getPixelForValue(vennCountSpots[i][1]));
    });
    ctx.font = '20px ' + FONT;
    vennSets.forEach((s, i) => {
      ctx.fillText(s, x.getPixelForValue(vennLabelSpots[i][0]), y.getPixelForValue(vennLabelSpots[i][1]));
    });
    ctx.restore();
  }
};

// one radius unit in pixels
const unitPx = chart => chart.scales.x.getPixelForValue(1) - chart.scales.x.getPixelForValue(0);

new Chart(document.getElementById('venn'), {
  type: 'scatter',
  data: {
    datasets: [{
      label: 'sets',
      data: vennCentres.map(c => ({x: c[0], y: c[1]})),
      backgroundColor: vennColors,
      pointBackgroundColor: vennColors,
      pointBorderWidth: 0,
      borderWidth: 0,
      clip: false,
      pointRadius: ctx => unitPx(ctx.chart)
    }]
  },
  options: {
    responsive: false,
    devicePixelRatio: 1,
    animation: false,
    events: [],
    layout: { padding: 0 },
    plugins: { legend: { display: false }, tooltip: { enabled: false } },
    scales: {
      x: { type: 'linear', display: false, min: -1.258, max: 1.981 },
      y: { type: 'linear', display: false, min: -2.101, max: 1.453 }
    }
  },
  plugins: [vennText]
});
</script>
</body>
</html>
